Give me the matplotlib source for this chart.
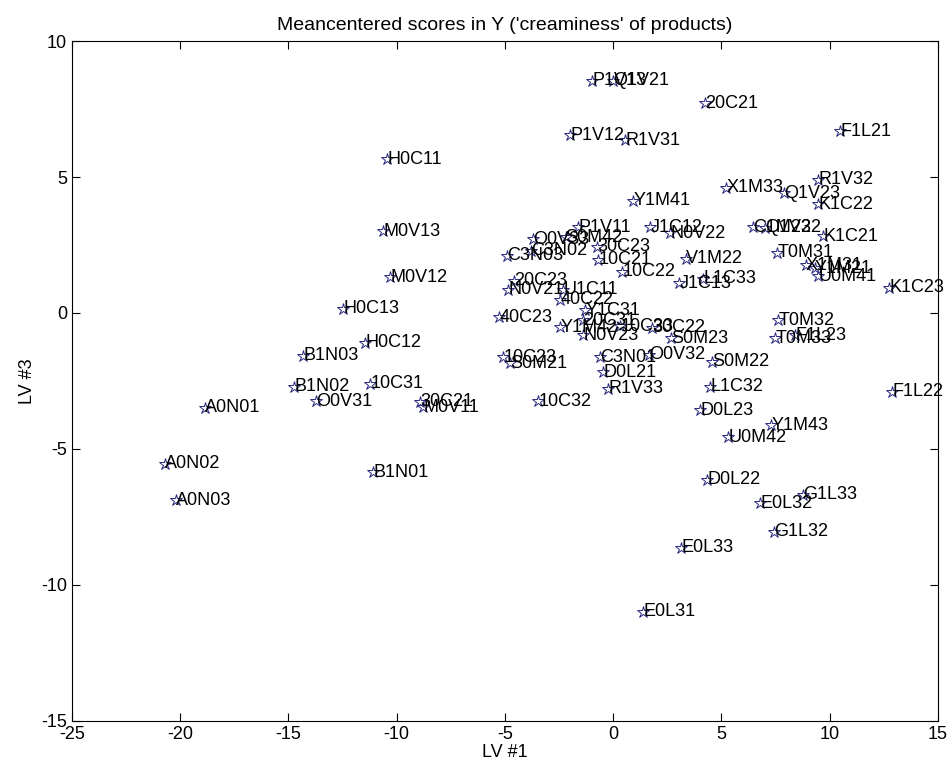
import matplotlib
matplotlib.use("Agg")
import matplotlib.pyplot as plt

plt.rcParams["font.family"] = ["Liberation Sans", "DejaVu Sans"]
plt.rcParams["axes.unicode_minus"] = False

labels = [
    "P1V13", "Q1V21", "20C21", "P1V12", "R1V31", "F1L21", "H0C11", "R1V32",
    "X1M33", "Q1V23", "K1C22", "Y1M41", "M0V13", "P1V11", "J1C12", "N0V22",
    "C1M23", "Q1V22", "K1C21", "O0V33", "S0M42", "C3N02", "30C23", "C3N03",
    "10C21", "V1M22", "T0M31", "X1M31", "Y1M21", "U0M41", "K1C23", "10C22",
    "J1C13", "L1C33", "20C23", "N0V21", "U1C11", "M0V12", "40C22", "H0C13",
    "Y1C31", "40C23", "20C31", "Y1M42", "N0V23", "10C33", "30C22", "S0M23",
    "T0M32", "T0M33", "F1L23", "H0C12", "B1N03", "10C23", "S0M21", "C3N01",
    "O0V32", "S0M22", "D0L21", "L1C32", "B1N02", "10C31", "R1V33", "O0V31",
    "30C21", "M0V11", "A0N01", "10C32", "F1L22", "D0L23", "Y1M43", "U0M42",
    "A0N02", "B1N01", "D0L22", "G1L33", "E0L32", "A0N03", "G1L32", "E0L33",
    "E0L31",
]

lv1 = [
    -0.97, 0.00, 4.25, -1.99, 0.55, 10.49, -10.44, 9.47,
    5.22, 7.90, 9.47, 0.92, -10.62, -1.62, 1.71, 2.63,
    6.47, 7.02, 9.70, -3.70, -2.20, -3.79, -0.74, -4.90,
    -0.69, 3.37, 7.58, 8.90, 9.30, 9.47, 12.75, 0.42,
    3.05, 4.16, -4.57, -4.85, -2.31, -10.30, -2.45, -12.47,
    -1.29, -5.27, -1.38, -2.45, -1.38, 0.32, 1.80, 2.68,
    7.62, 7.48, 8.41, -11.45, -14.32, -5.08, -4.76, -0.60,
    1.66, 4.57, -0.46, 4.48, -14.73, -11.22, -0.23, -13.72,
    -8.91, -8.78, -18.85, -3.46, 12.89, 4.02, 7.30, 5.31,
    -20.69, -11.09, 4.34, 8.78, 6.79, -20.18, 7.44, 3.14,
    1.39,
]

lv3 = [
    8.53, 8.53, 7.72, 6.54, 6.36, 6.69, 5.66, 4.89,
    4.60, 4.41, 4.00, 4.12, 3.01, 3.16, 3.16, 2.94,
    3.16, 3.13, 2.83, 2.72, 2.78, 2.28, 2.43, 2.10,
    1.95, 1.99, 2.21, 1.75, 1.65, 1.36, 0.92, 1.51,
    1.10, 1.25, 1.18, 0.85, 0.85, 1.32, 0.48, 0.15,
    0.11, -0.15, -0.26, -0.52, -0.81, -0.48, -0.55, -0.92,
    -0.26, -0.92, -0.81, -1.10, -1.58, -1.62, -1.84, -1.62,
    -1.54, -1.80, -2.17, -2.72, -2.72, -2.61, -2.79, -3.24,
    -3.27, -3.46, -3.49, -3.24, -2.90, -3.57, -4.12, -4.56,
    -5.55, -5.85, -6.14, -6.69, -6.99, -6.88, -8.05, -8.64,
    -10.99,
]

fig = plt.figure(figsize=(9.51, 7.71), dpi=100)
ax = fig.add_axes([0.0757, 0.0649, 0.9106, 0.8819])

ax.plot(lv1, lv3, linestyle="none", marker="*", markersize=9,
        markerfacecolor="none", markeredgecolor="#2a2a80", markeredgewidth=0.7)
for x, y, s in zip(lv1, lv3, labels):
    ax.text(x, y, s, fontsize=13, ha="left", va="center", color="black")

ax.set_xlim(-25, 15)
ax.set_ylim(-15, 10)
ax.set_xticks(range(-25, 16, 5))
ax.set_yticks(range(-15, 11, 5))
ax.tick_params(direction="in", top=True, right=True, labelsize=13, length=6)
ax.set_title("Meancentered scores in Y ('creaminess' of products)", fontsize=14, pad=8)
ax.set_xlabel("LV #1", fontsize=13, labelpad=1)
ax.set_ylabel("LV #3", fontsize=13, labelpad=4)

fig.savefig("out.png", dpi=100)
